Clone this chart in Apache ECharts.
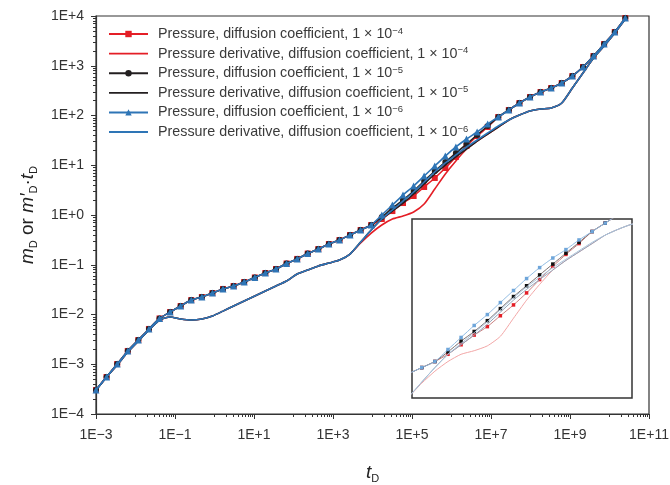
<!DOCTYPE html>
<html><head><meta charset="utf-8">
<script src="https://cdn.jsdelivr.net/npm/echarts@6/dist/echarts.min.js"></script>
<style>html,body{margin:0;padding:0;background:#fff}#c{width:670px;height:485px}</style>
</head><body><div id="c"></div>
<script>
// Dimensionless time (shared sampling of all curves)
const tD = [1.00e-3,1.85e-3,3.44e-3,6.37e-3,1.18e-2,2.19e-2,4.06e-2,7.52e-2,0.139,0.258,
  0.479,0.887,1.64,3.05,5.65,10.5,19.4,36.0,66.7,124,
  229,425,787,1.46e3,2.70e3,5.01e3,9.29e3,1.72e4,3.19e4,5.92e4,
  1.10e5,2.03e5,3.77e5,6.98e5,1.29e6,2.40e6,4.45e6,8.24e6,1.53e7,2.83e7,
  5.25e7,9.73e7,1.80e8,3.34e8,6.19e8,1.15e9,2.13e9,3.94e9,7.31e9,1.36e10,2.51e10];

// Pressure mD: common early part (k = 0..26)
const pressureEarly = [3.03e-4,5.55e-4,1.01e-3,1.85e-3,3.07e-3,5.12e-3,8.32e-3,1.12e-2,1.48e-2,1.95e-2,
  2.25e-2,2.70e-2,3.26e-2,3.74e-2,4.50e-2,5.55e-2,6.82e-2,8.22e-2,0.106,0.131,
  0.168,0.207,0.261,0.314,0.396,0.499,0.630];
// Pressure, diverging part (k = 27..37)
const pressureMid4 = [0.832,1.20,1.74,2.41,3.66,5.55,8.81,14.7,24.4,38.7,58.7];
const pressureMid5 = [0.912,1.38,2.00,3.03,4.82,7.66,11.6,17.6,26.7,40.6,61.5];
const pressureMid6 = [1.00,1.59,2.52,3.83,6.08,9.66,15.3,23.3,33.7,46.6,67.5];
// Pressure, common late part (k = 38..50)
const pressureLate = [93.3,129,178,235,297,357,450,622,944,1570,2736,4764,9120];

// Pressure derivative: common early part (k = 0..24)
const derivEarly = [3.03e-4,5.55e-4,9.66e-4,1.76e-3,2.93e-3,4.88e-3,7.75e-3,8.91e-3,8.13e-3,7.75e-3,
  8.13e-3,9.33e-3,1.17e-2,1.48e-2,1.87e-2,2.35e-2,2.97e-2,3.74e-2,4.71e-2,6.52e-2,
  7.84e-2,9.44e-2,0.108,0.124,0.164];
// Derivative, diverging part (k = 25..38)
const derivMid4 = [0.274,0.434,0.630,0.832,0.955,1.15,1.66,3.33,6.67,12.2,21.2,30.7,42.5,58.7];
const derivMid5 = [0.286,0.499,0.832,1.20,1.74,2.64,4.20,6.67,10.1,14.7,21.2,30.7,42.5,58.7];
const derivMid6 = [0.286,0.499,0.832,1.26,1.91,2.90,4.61,7.31,11.1,16.1,23.3,32.2,44.5,61.5];
// Derivative, common late part (k = 39..50)
const derivLate = [81.2,102,123,135,142,178,357,715,1432,2494,4550,8710];

const seriesNames = [
  'Pressure, diffusion coefficient, 1 × 10^−4',
  'Pressure derivative, diffusion coefficient, 1 × 10^−4',
  'Pressure, diffusion coefficient, 1 × 10^−5',
  'Pressure derivative, diffusion coefficient, 1 × 10^−5',
  'Pressure, diffusion coefficient, 1 × 10^−6',
  'Pressure derivative, diffusion coefficient, 1 × 10^−6'
];
const xTickLabels = [1e-3,1e-1,1e1,1e3,1e5,1e7,1e9,1e11];
const yTickLabels = [1e-4,1e-3,1e-2,1e-1,1e0,1e1,1e2,1e3,1e4];

const p4 = pressureEarly.concat(pressureMid4, pressureLate);
const p5 = pressureEarly.concat(pressureMid5, pressureLate);
const p6 = pressureEarly.concat(pressureMid6, pressureLate);
const d4 = derivEarly.concat(derivMid4, derivLate);
const d5 = derivEarly.concat(derivMid5, derivLate);
const d6 = derivEarly.concat(derivMid6, derivLate);
const pair = arr => tD.map((t, i) => [t, arr[i]]);

// minor tick positions (axis decoration)
const xMinor = [];
for (let e = -2; e <= 10; e += 2) for (let k = 1; k <= 9; k++) xMinor.push(k * Math.pow(10, e));
const yMinor = [];
for (let e = -4; e < 4; e++) for (let k = 2; k <= 9; k++) yMinor.push(k * Math.pow(10, e));

const FONT = 'Liberation Sans, Arial, sans-serif';
const fmtExp = v => { const e = Math.round(Math.log10(v)); return '1E' + (e >= 0 ? '+' : '\u2212') + Math.abs(e); };

const RED = '#e41e26', BLACK = '#231f20', BLUE = '#2e75b6';
const colors = [RED, RED, BLACK, BLACK, BLUE, BLUE];
const symbols = ['rect', 'none', 'circle', 'none', 'triangle', 'none'];
const symSize = [6, 0, 6, 0, 7, 0];
const dataSets = [p4, d4, p5, d5, p6, d6];

const series = [];
dataSets.forEach((arr, i) => {
  series.push({
    name: seriesNames[i], type: 'line', xAxisIndex: 0, yAxisIndex: 0,
    data: pair(arr), smooth: 0.2, symbol: symbols[i], symbolSize: symSize[i],
    showSymbol: symbols[i] !== 'none',
    lineStyle: { color: colors[i], width: 1.6 }, itemStyle: { color: colors[i] },
    z: 2 + i, animation: false
  });
});
// inset copies
const insetLine = ['#c98080', '#f2a6a6', '#7a6f70', '#8fa3b8', '#93bde3', '#a9c3da'];
const insetMark = ['#e41e26', null, '#111111', null, '#6fa6da', null];
dataSets.forEach((arr, i) => {
  series.push({
    name: seriesNames[i], type: 'line', xAxisIndex: 2, yAxisIndex: 2,
    data: pair(arr), smooth: 0.2, symbol: symbols[i] === 'none' ? 'none' : 'rect',
    symbolSize: 3.5, showSymbol: symbols[i] !== 'none', clip: true,
    lineStyle: { color: insetLine[i], width: 1 }, itemStyle: { color: insetMark[i] || insetLine[i] },
    z: 20 + i, animation: false, legendHoverLink: false
  });
});

const legendData = seriesNames.map((n, i) => symbols[i] === 'none'
  ? { name: n, icon: 'path://M0,0H40V1.8H0Z' }
  : { name: n });

const chart = echarts.init(document.getElementById('c'), null, { renderer: 'canvas' });
chart.setOption({
  backgroundColor: '#fff',
  animation: false,
  textStyle: { fontFamily: FONT },
  grid: [
    { left: 96, top: 16, width: 553, height: 398, show: true, borderColor: '#333', borderWidth: 1.2,
      backgroundColor: 'transparent', outerBoundsMode: 'none', containLabel: false },
    { left: 412, top: 219, width: 220, height: 179, show: true, borderColor: '#333', borderWidth: 1.5,
      backgroundColor: '#fff', z: 10, outerBoundsMode: 'none', containLabel: false }
  ],
  legend: {
    orient: 'vertical', left: 108, top: 26, padding: 0,
    itemWidth: 39, itemHeight: 8, itemGap: 4.6,
    data: legendData,
    formatter: n => { const p = n.split('^'); return '{t|' + p[0] + '}{sup|' + p[1] + '}'; },
    textStyle: {
      color: '#3a3a3a', fontFamily: FONT,
      rich: {
        t: { fontSize: 14.3, lineHeight: 16, fontFamily: FONT, color: '#3a3a3a', padding: [0, 0, 0, 5] },
        sup: { fontSize: 9.5, lineHeight: 10, verticalAlign: 'top', fontFamily: FONT, color: '#3a3a3a' }
      }
    }
  },
  xAxis: [
    { type: 'log', logBase: 10, gridIndex: 0, min: 1e-3, max: 1e11,
      name: '{i|t}{s|D}', nameLocation: 'middle', nameGap: 48,
      nameTextStyle: { rich: {
        i: { fontSize: 19, fontStyle: 'italic', fontFamily: FONT, color: '#222', lineHeight: 22 },
        s: { fontSize: 11, fontFamily: FONT, color: '#222', lineHeight: 12, verticalAlign: 'bottom' } } },
      axisLine: { show: true, lineStyle: { color: '#333', width: 1.2 } },
      axisTick: { show: true, inside: false, length: 5, customValues: xTickLabels, lineStyle: { color: '#333', width: 1 } },
      axisLabel: { show: true, customValues: xTickLabels, formatter: fmtExp, fontSize: 14, color: '#333', margin: 14, fontFamily: FONT },
      splitLine: { show: false }, minorTick: { show: false } },
    { type: 'log', logBase: 10, gridIndex: 0, min: 1e-3, max: 1e11, position: 'bottom',
      axisLine: { show: false },
      axisTick: { show: true, inside: false, length: 3, customValues: xMinor, lineStyle: { color: '#333', width: 1 } },
      axisLabel: { show: false }, splitLine: { show: false } },
    { type: 'log', logBase: 10, gridIndex: 1, min: 3162, max: 1e8, show: false }
  ],
  yAxis: [
    { type: 'log', logBase: 10, gridIndex: 0, min: 1e-4, max: 1e4,
      name: '{i|m}{s|D}{n| or }{i|m\u2032}{s|D}{n|\u00b7}{i|t}{s|D}', nameLocation: 'middle', nameGap: 57, nameRotate: 90,
      nameTextStyle: { rich: {
        i: { fontSize: 19, fontStyle: 'italic', fontFamily: FONT, color: '#222', lineHeight: 22 },
        n: { fontSize: 19, fontFamily: FONT, color: '#222', lineHeight: 22 },
        s: { fontSize: 11, fontFamily: FONT, color: '#222', lineHeight: 12, verticalAlign: 'bottom' } } },
      axisLine: { show: true, lineStyle: { color: '#333', width: 1.2 } },
      axisTick: { show: true, inside: false, length: 5, customValues: yTickLabels, lineStyle: { color: '#333', width: 1 } },
      axisLabel: { show: true, customValues: yTickLabels, formatter: fmtExp, fontSize: 14, color: '#333', margin: 12, fontFamily: FONT },
      splitLine: { show: false } },
    { type: 'log', logBase: 10, gridIndex: 0, min: 1e-4, max: 1e4, position: 'left',
      axisLine: { show: false },
      axisTick: { show: true, inside: false, length: 3, customValues: yMinor, lineStyle: { color: '#333', width: 1 } },
      axisLabel: { show: false }, splitLine: { show: false } },
    { type: 'log', logBase: 10, gridIndex: 1, min: 0.155, max: 151, show: false }
  ],
  series: series
});
</script></body></html>
